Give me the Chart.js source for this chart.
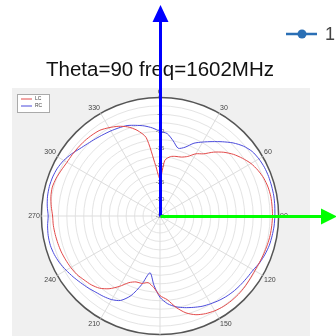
<!DOCTYPE html>
<html>
<head>
<meta charset="utf-8">
<script src="https://cdn.jsdelivr.net/npm/chart.js@4.4.1/dist/chart.umd.min.js"></script>
<style>
  html, body { margin: 0; padding: 0; background: #fff; overflow: hidden; }
  canvas { display: block; }
</style>
</head>
<body>
<!-- taller than the window: the bottom of the polar plot runs off the page like in the source -->
<canvas id="polar" width="336" height="360"></canvas>
<script>
// azimuth angles (deg), clockwise from top
const angles = [0, 5, 10, 15, 20, 25, 30, 35, 40, 45, 50, 55, 60, 65, 70, 75, 80, 85,
  90, 95, 100, 105, 110, 115, 120, 125, 130, 135, 140, 145, 150, 155, 160, 165, 170, 175,
  180, 185, 190, 195, 200, 205, 210, 215, 220, 225, 230, 235, 240, 245, 250, 255, 260, 265,
  270, 275, 280, 285, 290, 295, 300, 305, 310, 315, 320, 325, 330, 335, 340, 345, 350, 355];

// gain in dB
const lcGain = [-24, -18.5, -17.2, -16.8, -16.5, -15.6, -13.8, -12.6, -10.4, -8.4, -6.7, -5.3,
  -4.0, -3.1, -2.4, -2.0, -1.8, -1.8, -1.8, -1.9, -2.0, -2.2, -2.4, -2.6, -2.7, -2.6, -2.4,
  -2.3, -2.3, -2.4, -2.7, -3.2, -4.0, -5.4, -7.6, -10.2, -11.5, -13.8, -15.0, -14.4, -14.3,
  -13.3, -11.0, -8.8, -7.2, -6.3, -5.7, -5.0, -4.6, -4.3, -4.0, -3.8, -3.6, -3.4, -3.3, -2.8,
  -2.3, -2.1, -2.4, -2.9, -3.3, -3.4, -3.5, -3.6, -3.8, -4.1, -4.9, -5.8, -7.0, -8.8, -11.5, -20];

const rcGain = [-10.0, -10.6, -12.5, -14.3, -13.4, -11.3, -9.8, -8.2, -6.4, -4.5, -2.9, -1.8,
  -1.3, -1.0, -0.9, -0.9, -0.9, -1.0, -1.1, -1.2, -1.4, -1.6, -2.0, -2.5, -3.2, -3.5, -3.7,
  -3.9, -4.2, -4.6, -5.1, -5.6, -6.3, -7.0, -7.8, -9.0, -11.0, -14.5, -18.0, -14.0, -10.0,
  -7.5, -6.5, -6.0, -5.6, -5.0, -4.4, -3.7, -3.0, -2.3, -1.8, -1.5, -1.5, -1.7, -2.0, -1.6,
  -1.3, -1.2, -1.3, -1.6, -2.2, -3.1, -4.1, -4.8, -5.3, -5.7, -6.0, -6.3, -6.6, -7.3, -8.0, -8.9];

const seriesNames = ['LC', 'RC'];
const seriesColors = ['#e34a4a', '#4b4bdc'];

// panel, legends and arrows around the polar plot
const decor = {
  id: 'decor',
  beforeDraw(chart) {
    const ctx = chart.ctx;
    const r = chart.scales.r;
    ctx.save();
    ctx.fillStyle = '#f0f0f0';
    ctx.fillRect(12, 88, 298, 272);
    ctx.fillStyle = '#ffffff';
    ctx.beginPath();
    ctx.arc(r.xCenter, r.yCenter, r.drawingArea, 0, Math.PI * 2);
    ctx.fill();
    ctx.restore();
  },
  afterDraw(chart) {
    const ctx = chart.ctx;
    const r = chart.scales.r;
    const cx = r.xCenter + 0.5;
    const cy = r.yCenter + 0.5;
    ctx.save();

    // small LC / RC legend box
    ctx.fillStyle = '#ffffff';
    ctx.fillRect(17, 94, 33, 19);
    ctx.strokeStyle = '#aaaaaa';
    ctx.lineWidth = 1;
    ctx.strokeRect(17.5, 94.5, 32, 18);
    ctx.font = '5px "Liberation Sans"';
    ctx.textBaseline = 'middle';
    seriesNames.forEach((name, i) => {
      const y = 99 + i * 7;
      ctx.strokeStyle = seriesColors[i];
      ctx.beginPath();
      ctx.moveTo(21, y);
      ctx.lineTo(32, y);
      ctx.stroke();
      ctx.fillStyle = '#444';
      ctx.fillText(name, 35, y);
    });

    // series "1" legend entry, top right
    ctx.strokeStyle = '#2a6fb5';
    ctx.fillStyle = '#2a6fb5';
    ctx.lineWidth = 2.5;
    ctx.beginPath();
    ctx.moveTo(286, 34);
    ctx.lineTo(317, 34);
    ctx.stroke();
    ctx.beginPath();
    ctx.arc(302, 34, 4.5, 0, Math.PI * 2);
    ctx.fill();
    ctx.fillStyle = '#444';
    ctx.font = '18px "Liberation Sans"';
    ctx.fillText('1', 325, 35);

    // vertical (blue) axis arrow
    ctx.strokeStyle = '#0000ff';
    ctx.fillStyle = '#0000ff';
    ctx.lineWidth = 3;
    ctx.beginPath();
    ctx.moveTo(cx, cy);
    ctx.lineTo(cx, 21);
    ctx.stroke();
    ctx.beginPath();
    ctx.moveTo(cx, 5);
    ctx.lineTo(cx - 8, 22);
    ctx.lineTo(cx + 8, 22);
    ctx.closePath();
    ctx.fill();

    // horizontal (green) axis arrow
    ctx.strokeStyle = '#00ff00';
    ctx.fillStyle = '#00ff00';
    ctx.beginPath();
    ctx.moveTo(cx, cy);
    ctx.lineTo(322, cy);
    ctx.stroke();
    ctx.beginPath();
    ctx.moveTo(337, cy);
    ctx.lineTo(321, cy - 8);
    ctx.lineTo(321, cy + 8);
    ctx.closePath();
    ctx.fill();

    ctx.restore();
  }
};

new Chart(document.getElementById('polar'), {
  type: 'radar',
  data: {
    labels: angles,
    datasets: [lcGain, rcGain].map((values, i) => ({
      label: seriesNames[i],
      data: values,
      borderColor: seriesColors[i],
      borderWidth: 1,
      pointRadius: 0,
      fill: false,
      tension: 0.25
    }))
  },
  options: {
    responsive: false,
    animation: false,
    layout: { padding: { left: 13, right: 29, top: 0, bottom: 14 } },
    plugins: {
      legend: { display: false },
      tooltip: { enabled: false },
      title: {
        display: true,
        text: 'Theta=90 freq=1602MHz',
        color: '#111',
        font: { family: 'Liberation Sans', size: 20.5, weight: 'normal' },
        padding: { top: 57.7, bottom: 5.2 }
      }
    },
    scales: {
      r: {
        min: -35,
        max: 0,
        startAngle: 0,
        ticks: {
          stepSize: 2.5,
          color: '#666',
          font: { family: 'Liberation Sans', size: 6 },
          showLabelBackdrop: false,
          backdropPadding: 0,
          callback: (v) => (v % 5 === 0 ? v : '')
        },
        grid: {
          circular: true,
          color: (ctx) => (ctx.tick && ctx.tick.value === 0 ? '#555' : '#e4e4e4'),
          lineWidth: (ctx) => (ctx.tick && ctx.tick.value === 0 ? 1.5 : 1)
        },
        angleLines: {
          color: '#dddddd',
          lineWidth: (ctx) => (ctx.index % 6 === 0 ? 1 : 0)
        },
        pointLabels: {
          padding: -1.5,
          color: '#444',
          font: { family: 'Liberation Sans', size: 7 },
          callback: (label, i) => (i % 6 === 0 ? String(label) : [])
        }
      }
    }
  },
  plugins: [decor]
});
</script>
</body>
</html>
